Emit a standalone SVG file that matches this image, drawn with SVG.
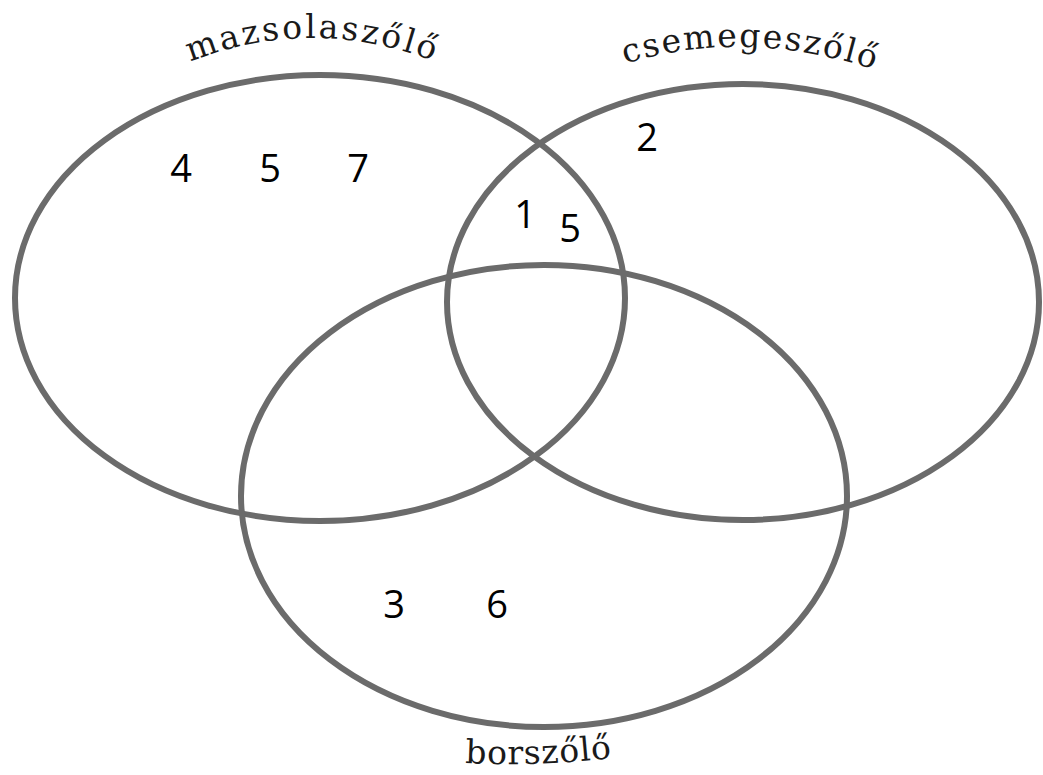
<svg xmlns="http://www.w3.org/2000/svg" xmlns:xlink="http://www.w3.org/1999/xlink" width="1043" height="775" viewBox="0 0 1043 775">
<style>
.set{fill:none;stroke:#6b6b6b;stroke-width:6}
.lbl{font-family:"DejaVu Serif","Liberation Serif",serif;font-size:33px;fill:#1a1a1a}
.num{font-family:"Open Sans","Liberation Sans",sans-serif;font-size:38px;fill:#000;text-anchor:middle}
</style>
<defs>
<path id="arcA" d="M 190 62 Q 316 12 446 66"/>
<path id="arcB" d="M 625 64 Q 746 26 882 72"/>
<path id="arcC" d="M 465 763 Q 540 767 620 757"/>
</defs>
<rect width="1043" height="775" fill="#fff"/>
<g id="mazsolaszolo">
<ellipse class="set" cx="320" cy="298" rx="305" ry="223"/>
<text class="lbl" letter-spacing="2.6"><textPath xlink:href="#arcA" href="#arcA">mazsolaszőlő</textPath></text>
</g>
<g id="csemegeszolo">
<ellipse class="set" cx="743" cy="302" rx="296" ry="218"/>
<text class="lbl" letter-spacing="2"><textPath xlink:href="#arcB" href="#arcB">csemegeszőlő</textPath></text>
</g>
<g id="borszolo">
<ellipse class="set" cx="544" cy="496" rx="303" ry="231"/>
<text class="lbl" letter-spacing="0.8"><textPath xlink:href="#arcC" href="#arcC">borszőlő</textPath></text>
</g>
<g id="numbers">
<text class="num" x="181" y="182">4</text>
<text class="num" x="270" y="182">5</text>
<text class="num" x="358" y="182">7</text>
<text class="num" x="647" y="151">2</text>
<text class="num" x="525" y="228">1</text>
<text class="num" x="570" y="242">5</text>
<text class="num" x="394" y="618">3</text>
<text class="num" x="497" y="618">6</text>
</g>
<g id="connectors"/>
</svg>
